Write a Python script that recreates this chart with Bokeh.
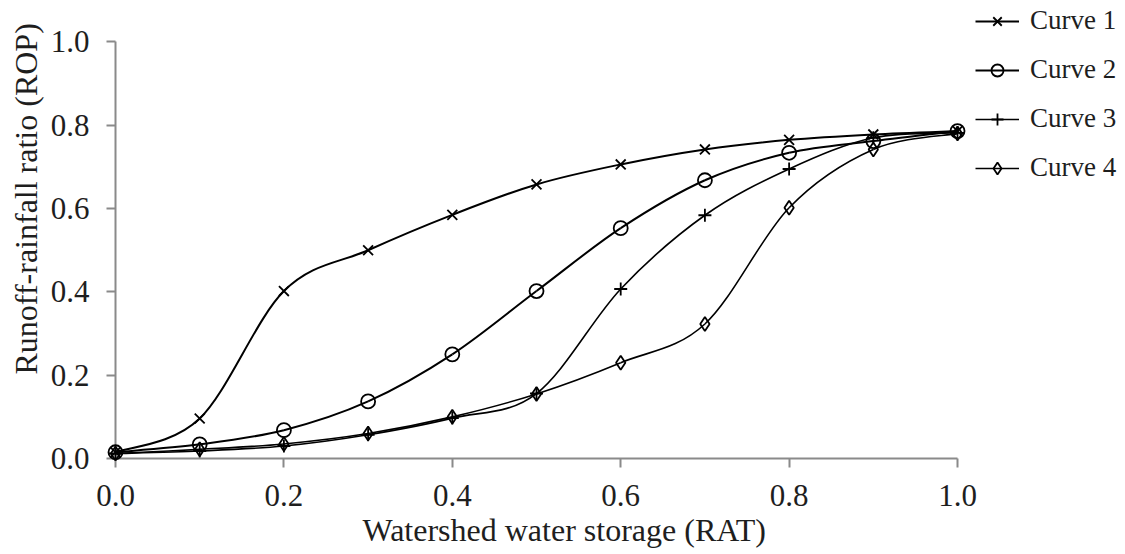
import numpy as np
from bokeh.plotting import figure
from bokeh.models import (Range1d, FixedTicker, PrintfTickFormatter, Legend, LegendItem,
                          ColumnDataSource, Title)
from bokeh.embed import file_html
from bokeh.resources import INLINE

# ---- data ----
x_vals = [0.0, 0.1, 0.2, 0.3, 0.4, 0.5, 0.6, 0.7, 0.8, 0.9, 1.0]
curve1 = [0.015, 0.096, 0.402, 0.500, 0.585, 0.658, 0.706, 0.742, 0.765, 0.778, 0.786]
curve2 = [0.015, 0.034, 0.068, 0.137, 0.250, 0.402, 0.553, 0.668, 0.734, 0.762, 0.786]
curve3 = [0.012, 0.018, 0.030, 0.057, 0.097, 0.156, 0.407, 0.584, 0.695, 0.770, 0.782]
curve4 = [0.012, 0.022, 0.035, 0.060, 0.100, 0.155, 0.230, 0.323, 0.602, 0.742, 0.780]
series_names = ["Curve 1", "Curve 2", "Curve 3", "Curve 4"]
tick_values = [0.0, 0.2, 0.4, 0.6, 0.8, 1.0]
x_title = "Watershed water storage (RAT)"
y_title = "Runoff-rainfall ratio (ROP)"

FONT = "Liberation Serif"
AXIS_GRAY = "#8a8a8a"
TEXT = "#1e1e1e"

# frame extends right/up (beyond the axis bounds) so the legend lives inside it
p = figure(width=1125, height=554, x_range=Range1d(0, 1.1995), y_range=Range1d(0, 1.090),
           output_backend="svg", toolbar_location=None,
           min_border_left=115, min_border_right=0, min_border_top=4, min_border_bottom=96)
p.outline_line_color = None
p.grid.visible = False
p.background_fill_color = "white"
p.border_fill_color = "white"

for ax in (p.xaxis[0], p.yaxis[0]):
    ax.bounds = (0, 1)
    ax.ticker = FixedTicker(ticks=tick_values)
    ax.formatter = PrintfTickFormatter(format="%.1f")
    ax.axis_line_color = AXIS_GRAY
    ax.axis_line_width = 2
    ax.major_tick_line_color = AXIS_GRAY
    ax.major_tick_line_width = 2
    ax.major_tick_in = 0
    ax.major_tick_out = 9
    ax.minor_tick_line_color = None
    ax.major_label_text_font = FONT
    ax.major_label_text_font_size = "31px"
    ax.major_label_text_color = TEXT

p.xaxis[0].major_label_standoff = 17
p.yaxis[0].major_label_standoff = 17

xt = Title(text=x_title, align="left", offset=247, text_font=FONT,
           text_font_size="32px", text_font_style="normal", text_color=TEXT, standoff=3)
p.add_layout(xt, "below")
yt = Title(text=y_title, align="left", offset=84, text_font=FONT,
           text_font_size="32px", text_font_style="normal", text_color=TEXT, standoff=8)
p.add_layout(yt, "left")


def smooth_source(xs, ys):
    xs = np.asarray(xs, float)
    ys = np.asarray(ys, float)
    n = len(xs)
    xp = np.concatenate([[xs[0]], xs, [xs[-1]]])
    yp = np.concatenate([[ys[0]], ys, [ys[-1]]])
    i = np.arange(n - 1)
    # Catmull-Rom -> cubic Bezier control points (smoothed-line style)
    cx0 = xp[i + 1] + (xp[i + 2] - xp[i]) / 6.0
    cy0 = yp[i + 1] + (yp[i + 2] - yp[i]) / 6.0
    cx1 = xp[i + 2] - (xp[i + 3] - xp[i + 1]) / 6.0
    cy1 = yp[i + 2] - (yp[i + 3] - yp[i + 1]) / 6.0
    return ColumnDataSource(dict(x0=xs[:-1], y0=ys[:-1], x1=xs[1:], y1=ys[1:],
                                 cx0=cx0, cy0=cy0, cx1=cx1, cy1=cy1))


styles = [
    dict(marker="x", size=14, lw=2.0),
    dict(marker="circle", size=14, lw=2.0),
    dict(marker="cross", size=13, lw=1.6),
    dict(marker="diamond", size=14, lw=1.6),
]
all_series = [curve1, curve2, curve3, curve4]

items = []
for name, ys, st in zip(series_names, all_series, styles):
    src = smooth_source(x_vals, ys)
    b = p.bezier(x0="x0", y0="y0", x1="x1", y1="y1", cx0="cx0", cy0="cy0",
                 cx1="cx1", cy1="cy1", source=src, line_color="black",
                 line_width=st["lw"], level="overlay")
    s = p.scatter(x_vals, ys, marker=st["marker"], size=st["size"],
                  line_color="black", fill_color="white", fill_alpha=0.0,
                  line_width=1.8, level="overlay")
    items.append(LegendItem(label=name, renderers=[b, s]))

legend = Legend(items=items, location=(860, 275), orientation="vertical",
                glyph_width=44, glyph_height=30, label_height=30, spacing=18,
                label_standoff=11, padding=0, margin=0,
                label_text_font=FONT, label_text_font_size="27px",
                label_text_color=TEXT,
                border_line_color=None, background_fill_alpha=0.0)
p.add_layout(legend, "center")

open("out.html", "w").write(file_html(p, INLINE))
